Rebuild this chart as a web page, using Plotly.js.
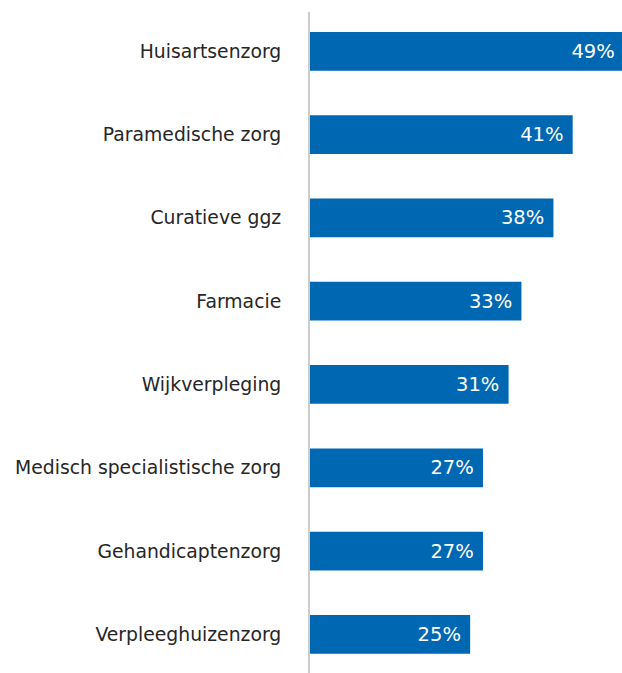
<!DOCTYPE html>
<html>
<head>
<meta charset="utf-8">
<script src="https://cdn.plot.ly/plotly-3.0.1.min.js"></script>
<style>
  html, body { margin: 0; padding: 0; background: #fff; }
  #chart { width: 622px; height: 673px; }
</style>
</head>
<body>
<div id="chart"></div>
<script>
const categories = [
  "Huisartsenzorg",
  "Paramedische zorg",
  "Curatieve ggz",
  "Farmacie",
  "Wijkverpleging",
  "Medisch specialistische zorg",
  "Gehandicaptenzorg",
  "Verpleeghuizenzorg"
];
const values = [49, 41, 38, 33, 31, 27, 27, 25];
const valueLabels = values.map(v => v + "%\u00a0");

const trace = {
  type: "bar",
  orientation: "h",
  x: values,
  y: categories,
  text: valueLabels,
  textposition: "inside",
  insidetextanchor: "end",
  textangle: 0,
  constraintext: "none",
  insidetextfont: { family: "DejaVu Sans", size: 19.5, color: "#ffffff" },
  marker: { color: "#0068b3", line: { width: 0 } },
  width: 0.465,
  hoverinfo: "none",
  cliponaxis: true
};

const layout = {
  width: 622,
  height: 673,
  margin: { l: 310, r: 0, t: 12, b: 0, pad: 0 },
  paper_bgcolor: "#ffffff",
  plot_bgcolor: "#ffffff",
  showlegend: false,
  xaxis: {
    range: [0, 48.7],
    showgrid: false,
    zeroline: false,
    showticklabels: false,
    showline: false,
    ticks: ""
  },
  yaxis: {
    type: "category",
    range: [7.464, -0.472],
    showgrid: false,
    zeroline: false,
    showline: true,
    linecolor: "#cccccc",
    linewidth: 2,
    ticks: "",
    ticklabelstandoff: 23,
    tickfont: { family: "DejaVu Sans", size: 18.8, color: "#262626" }
  }
};

Plotly.newPlot("chart", [trace], layout, { staticPlot: true, displayModeBar: false });
</script>
</body>
</html>
